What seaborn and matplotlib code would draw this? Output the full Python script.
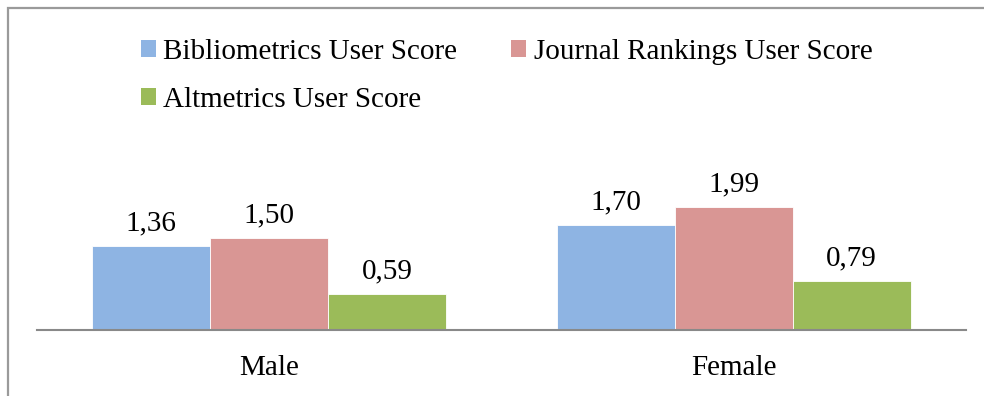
import matplotlib
matplotlib.use("Agg")
import matplotlib.pyplot as plt
from matplotlib.patches import Rectangle, Patch
import seaborn as sns
import pandas as pd

groups = ["Male", "Female"]
series = ["Bibliometrics User Score", "Journal Rankings User Score", "Altmetrics User Score"]
bibliometrics = [1.36, 1.70]
journal_rankings = [1.50, 1.99]
altmetrics = [0.59, 0.79]
colors = ["#8EB4E3", "#D99694", "#9BBB59"]

rows = []
for name, vals in zip(series, [bibliometrics, journal_rankings, altmetrics]):
    for g, v in zip(groups, vals):
        rows.append({"group": g, "series": name, "value": v})
df = pd.DataFrame(rows)

sns.set_theme(style="white")
plt.rcParams["font.family"] = ["Liberation Serif", "DejaVu Serif"]
plt.rcParams["text.color"] = "black"

FS = 21

fig = plt.figure(figsize=(9.84, 3.96), dpi=100)
ax = fig.add_axes([37 / 984, 66 / 396, 929 / 984, 154 / 396])

sns.barplot(data=df, x="group", y="value", hue="series", order=groups,
            hue_order=series, palette=colors, width=0.762, ax=ax,
            edgecolor="white", linewidth=0.6, saturation=1, legend=False)

for container in ax.containers:
    ax.bar_label(container, labels=[f"{v:.2f}".replace(".", ",") for v in container.datavalues],
                 padding=7, fontsize=FS, color="black")

ax.set_ylim(0, 2.5)
ax.set_xlim(-0.5, 1.5)
ax.set_xlabel("")
ax.set_ylabel("")
ax.set_yticks([])
ax.tick_params(axis="x", length=0, labelsize=FS, pad=18, colors="black")
for side in ["left", "right", "top"]:
    ax.spines[side].set_visible(False)
ax.spines["bottom"].set_color("#898989")
ax.spines["bottom"].set_linewidth(1.5)

handles = [Patch(facecolor=c, edgecolor="none") for c in colors]
order = [0, 2, 1]
leg = fig.legend([handles[i] for i in order], [series[i] for i in order],
                 ncol=2, loc="upper left", bbox_to_anchor=(129 / 984, 1 - 27 / 396),
                 frameon=False, fontsize=FS, handlelength=0.52, handleheight=0.52,
                 handletextpad=0.25, columnspacing=1.85, labelspacing=0.76, borderaxespad=0)
for t in leg.get_texts():
    t.set_color("black")

fig.patches.append(Rectangle((7.5 / 984, -0.05), 1.1, 1 - 7.5 / 396 + 0.05,
                             transform=fig.transFigure, fill=False,
                             edgecolor="#9A9A9A", linewidth=1.6))

fig.savefig("out.png", dpi=100)
